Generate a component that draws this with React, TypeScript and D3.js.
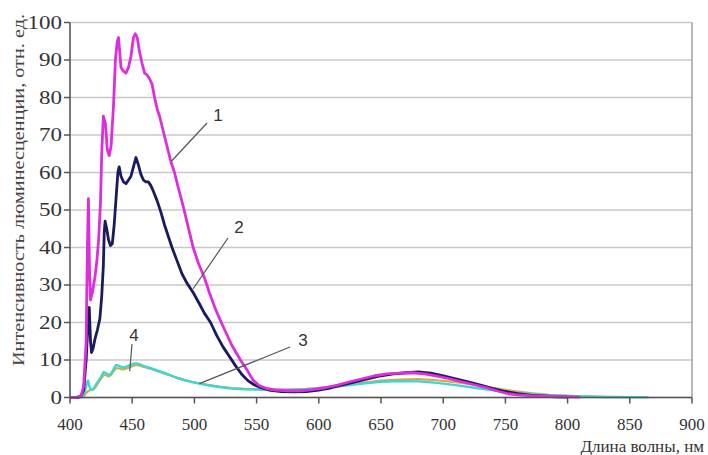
import React from "react";
import * as d3 from "d3";

const xTicks = [400, 450, 500, 550, 600, 650, 700, 750, 800, 850, 900];
const yTicks = [0, 10, 20, 30, 40, 50, 60, 70, 80, 90, 100];

const wl1 = [400,405,409,411,413,414,414.8,415.6,416.5,418,420,421.5,423,424.5,425.5,426.8,428.5,430,431.5,433,435,436.5,438,439,440,441,443,445,447,449,451,452.5,454,456,458,460,462,464,466,468,470,472,475,478,481,484,487,491,495,499,503,508,512,517,523,530,537,542,547,552,558,565,575,585,595,605,615,625,635,645,655,665,675,685,695,705,715,725,735,745,752,760,770,780,790,800,810];
const val1 = [0,0,0.5,3,15,40,53,35,26,28,32,36,42,52,65,75,73,66,64.5,67,78,90,95,96,92,88,87,86.5,88,91,96,97,96,92,89,86.5,86,85,83.5,80,77,75,71,67,63,60,56,51,45.5,40,36,32,28,23.5,19,14,10,7.5,4.7,3.2,2.4,2,1.8,1.8,2.1,2.6,3.3,4.2,5,5.8,6.3,6.5,6.6,6.3,5.7,5,4.2,3.4,2.6,1.6,1,0.7,0.5,0.4,0.3,0.2,0.1];

const wl2 = [400,406,409,411,413,414.5,415.5,416.5,417.3,418.5,420,422,424,425.5,426.8,427.5,428.2,429.5,431,432.5,434,435.5,437,438.5,439.5,441,443,445,447,449,451,453,455,457,459,461,463,465,467,470,473,476,479,482,486,490,494,499,504,508,513,518,523,528,533,538,543,548,553,560,570,580,590,600,610,620,630,640,650,660,670,680,690,700,710,720,730,740,750,760,770,780,790,800];
const val2 = [0,0,0.5,2,10,20,24,15,12,13,15.5,18,21,27,35,44,47,45,42,40.5,41,46,53,60,61.5,59,57.5,57,58,59,61.5,64,62,59.5,58,57.5,57.5,56.5,55,52.5,49.5,46,43,40,36.5,33,30.5,28,25,22.5,20,16.5,13.5,11,8.5,6.2,4.5,3.4,2.7,2,1.6,1.5,1.6,2,2.6,3.4,4.2,5,5.8,6.3,6.6,6.8,6.5,5.8,5,4.2,3.3,2.4,1.6,1,0.6,0.4,0.2,0.1];

const wl3 = [400,408,410,412,413.5,414.5,415.5,417,419,421,423,425,427,429,431,433,435,437,439,441,443,446,449,452,455,458,461,465,470,475,480,486,492,498,504,512,520,530,540,550,560,575,590,605,620,635,650,665,680,695,710,725,740,755,770,785,800,815,830,850,865];
const val3 = [0,0,0.3,1.5,4,4.5,3,2,2.3,3.5,4.5,5.5,6.8,6.5,6,6.3,7.5,8.7,8.5,8.2,8,8.3,8.8,9.1,9,8.6,8.2,7.8,7.2,6.6,6,5.2,4.6,4.1,3.7,3.2,2.8,2.4,2.2,2.1,2,2,2.2,2.6,3.1,3.7,4.2,4.4,4.3,3.9,3.3,2.6,1.9,1.3,0.9,0.6,0.4,0.25,0.15,0.1,0.05];

const wl4 = [400,409,411,413,415,417,419,421,423,425,427,429,431,433,435,437,439,441,443,446,449,452,455,458,461,465,470,475,480,486,492,498,504,512,520,530,540,550,560,575,590,605,620,635,650,665,680,695,710,725,740,755,770,785,800,815,830,850];
const val4 = [0,0,0.3,1.2,1.8,2,2.2,3,4,5,6,6,5.6,6,7,7.8,7.8,7.6,7.5,7.8,8.2,8.6,8.6,8.3,8,7.6,7.1,6.5,6,5.3,4.7,4.2,3.8,3.3,2.9,2.5,2.3,2.2,2.1,2.1,2.3,2.7,3.3,3.9,4.5,4.8,4.9,4.6,4.1,3.4,2.6,1.8,1.2,0.7,0.45,0.3,0.2,0.1];

const series = [
  { wl: wl4, val: val4, color: "#D8A848", width: 2.2 },
  { wl: wl3, val: val3, color: "#3ED6CE", width: 2.4 },
  { wl: wl2, val: val2, color: "#1A1A5E", width: 2.8 },
  { wl: wl1, val: val1, color: "#DD2EDD", width: 2.8 },
];

const annotations = [
  { label: "1", tx: 218, ty: 121, x1: 207, y1: 123, w: 481.5, v: 63 },
  { label: "2", tx: 239, ty: 233, x1: 228, y1: 238, w: 499, v: 29 },
  { label: "3", tx: 303, ty: 346, x1: 290, y1: 347, w: 504, v: 3.7 },
  { label: "4", tx: 134, ty: 341, x1: 132, y1: 344, w: 448, v: 7 },
];

const SERIF = "'Liberation Serif', 'Times New Roman', 'DejaVu Serif', serif";

export default function App() {
  const x = d3.scaleLinear().domain([400, 900]).range([70, 692]);
  const y = d3.scaleLinear().domain([0, 100]).range([397.5, 22.5]);
  const line = (wl: number[], val: number[]) =>
    d3.line<number>().x((_, i) => x(wl[i])).y((d) => y(d))(val) || "";

  return (
    <svg width={708} height={455} style={{ position: "absolute", left: 0, top: 0, background: "#fff" }}>
      {yTicks.map((t) => (
        <line key={"g" + t} x1={x(400)} x2={x(900)} y1={y(t)} y2={y(t)} stroke="#c8c8c8" strokeWidth={1.5} />
      ))}
      <line x1={x(900)} x2={x(900)} y1={y(100)} y2={y(0)} stroke="#a0a0a0" strokeWidth={1.5} />
      {series.map((s, i) => (
        <path key={i} d={line(s.wl, s.val)} fill="none" stroke={s.color} strokeWidth={s.width} strokeLinejoin="round" />
      ))}
      <line x1={x(400)} x2={x(400)} y1={y(100)} y2={y(0)} stroke="#555" strokeWidth={1.6} />
      <line x1={x(400)} x2={x(900)} y1={y(0)} y2={y(0)} stroke="#555" strokeWidth={1.6} />
      {yTicks.map((t) => (
        <line key={"yt" + t} x1={x(400) - 6} x2={x(400)} y1={y(t)} y2={y(t)} stroke="#555" strokeWidth={1.5} />
      ))}
      {xTicks.map((t) => (
        <line key={"xt" + t} x1={x(t)} x2={x(t)} y1={y(0)} y2={y(0) + 6} stroke="#555" strokeWidth={1.5} />
      ))}
      {yTicks.map((t) => (
        <text key={"yl" + t} x={62} y={y(t) + 6} textAnchor="end" style={{ fontFamily: SERIF }}
          fontSize={18} fill="#333" textLength={String(t).length * 11.5} lengthAdjust="spacingAndGlyphs">{t}</text>
      ))}
      {xTicks.map((t) => (
        <text key={"xl" + t} x={x(t)} y={430} textAnchor="middle" style={{ fontFamily: SERIF }}
          fontSize={17} fill="#333">{t}</text>
      ))}
      <text x={704} y={452} textAnchor="end" style={{ fontFamily: SERIF }} fontSize={17} fill="#333">
        Длина волны, нм
      </text>
      <text transform="translate(24,190) rotate(-90)" textAnchor="middle" style={{ fontFamily: SERIF }}
        fontSize={17} fill="#444" textLength={352} lengthAdjust="spacingAndGlyphs">
        Интенсивность люминесценции, отн. ед.
      </text>
      {annotations.map((a) => (
        <g key={a.label}>
          <line x1={a.x1} y1={a.y1} x2={x(a.w)} y2={y(a.v)} stroke="#555" strokeWidth={1.2} />
          <text x={a.tx} y={a.ty} textAnchor="middle" style={{ fontFamily: "'Liberation Sans', Arial, sans-serif" }} fontSize={17} fill="#333">
            {a.label}
          </text>
        </g>
      ))}
    </svg>
  );
}
